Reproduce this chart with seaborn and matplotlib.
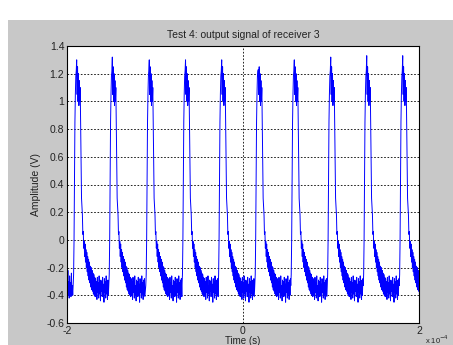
import numpy as np
import pandas as pd
import matplotlib
matplotlib.use("Agg")
import matplotlib.pyplot as plt
from matplotlib.patches import Rectangle
import seaborn as sns

# times of the pulse peaks (x 1e-4 s) and their heights (V)
peak_times = [-1.890, -1.485, -1.065, -0.653, -0.242, 0.174, 0.583, 0.997, 1.406, 1.815]
peak_heights = [1.30, 1.32, 1.30, 1.30, 1.30, 1.23, 1.30, 1.32, 1.33, 1.33]

# one sampled pulse (rise, noisy top, fall, decay, noisy floor)
sample_step = 0.005
pulse_start = -0.040
peak_index = 8
pulse_values = [
    -0.33, -0.25, 0.00, 0.45, 0.85, 1.05, 1.18, 1.22,
    1.30,
    1.05, 1.25, 1.00, 1.20, 0.97, 1.15, 1.00, 1.10,
    0.85, 0.55, 0.30,
    0.24, 0.18, 0.04, 0.06, -0.06, -0.01, -0.12, -0.03, -0.16, -0.07,
    -0.20, -0.09, -0.23, -0.12, -0.26, -0.14, -0.29, -0.16, -0.31, -0.19,
    -0.34, -0.20, -0.36, -0.22, -0.37, -0.24, -0.39, -0.25, -0.40, -0.27,
    -0.41,
    -0.28, -0.40, -0.30, -0.43, -0.27, -0.38, -0.31, -0.42, -0.26, -0.39,
    -0.33, -0.44, -0.29, -0.37, -0.30, -0.41, -0.27, -0.40, -0.32, -0.45,
    -0.28, -0.38, -0.30, -0.42, -0.26, -0.39, -0.31, -0.43, -0.29, -0.40,
    -0.28, -0.41,
]

# noisy floor before the first pulse
lead_start = -2.0
lead_values = [-0.25, -0.38, -0.22, -0.40, -0.30, -0.42, -0.26, -0.36,
               -0.31, -0.41, -0.24, -0.39, -0.33, -0.40]

y_ticks = [-0.6, -0.4, -0.2, 0, 0.2, 0.4, 0.6, 0.8, 1, 1.2, 1.4]
y_tick_labels = ["-0.6", "-0.4", "-0.2", "0", "0.2", "0.4", "0.6", "0.8", "1", "1.2", "1.4"]
x_ticks = [-2, 0, 2]
x_tick_labels = ["-2", "0", "2"]

# put the sampled pulse at every peak
times = [lead_start + sample_step * np.arange(len(lead_values))]
values = [np.array(lead_values)]
offsets = pulse_start + sample_step * np.arange(len(pulse_values))
for i, (tp, hp) in enumerate(zip(peak_times, peak_heights)):
    vals = np.array(pulse_values, dtype=float)
    vals[peak_index] = hp
    t = tp + offsets
    if i + 1 < len(peak_times):
        keep = t < peak_times[i + 1] + pulse_start
        t, vals = t[keep], vals[keep]
    times.append(t)
    values.append(vals)

df = pd.DataFrame({"time": np.concatenate(times), "amp": np.concatenate(values)})

sns.set_style("white")
plt.rcParams["font.family"] = ["Liberation Sans", "DejaVu Sans"]

W, H = 453, 345
fig = plt.figure(figsize=(W / 100, H / 100), dpi=100, facecolor="white")
bg = Rectangle((8 / W, 0), 1, (H - 20) / H, transform=fig.transFigure,
               facecolor="#c8c8c8", edgecolor="none", zorder=-10)
fig.add_artist(bg)
ax = fig.add_axes([67 / W, (H - 323) / H, 352 / W, 277 / H])
ax.set_zorder(1)
ax.set_facecolor("white")

sns.lineplot(data=df, x="time", y="amp", ax=ax, sort=False, estimator=None,
             color="#0000ff", linewidth=0.7)

ax.set_xlim(-2, 2)
ax.set_ylim(-0.6, 1.4)
ax.set_xticks(x_ticks)
ax.set_xticklabels(x_tick_labels)
ax.set_yticks(y_ticks)
ax.set_yticklabels(y_tick_labels)
ax.tick_params(direction="in", length=3, width=0.6, labelsize=7.5,
               colors="#222222", pad=2)
ax.grid(True, color="black", linestyle=(0, (2, 2)), linewidth=0.6)
for s in ax.spines.values():
    s.set_color("black")
    s.set_linewidth(0.8)
    s.set_visible(True)

ax.set_title("Test 4: output signal of receiver 3", fontsize=7.5, color="#222222", pad=6)
ax.set_ylabel("Amplitude (V)", fontsize=7.5, color="#222222", labelpad=4)
ax.set_xlabel("Time (s)", fontsize=7, color="#222222", labelpad=0)
fig.text(425 / W, 1 - 334 / H, r"x 10$^{-4}$", fontsize=5.5, color="#222222",
         ha="left", va="top")

fig.savefig("out.png", dpi=100, facecolor=fig.get_facecolor())
